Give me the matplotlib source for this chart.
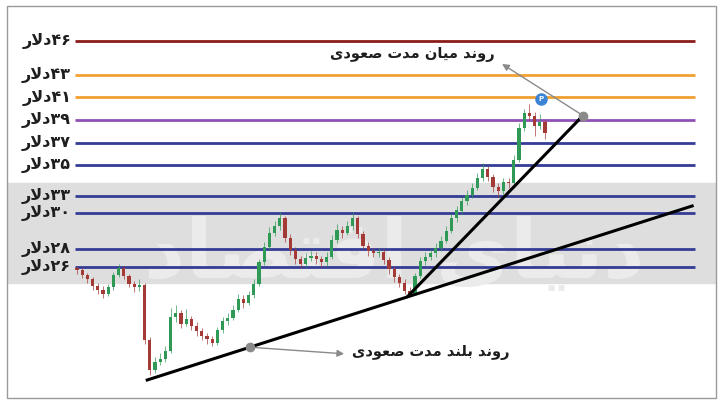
import re
import matplotlib.pyplot as plt
from matplotlib.patches import Rectangle

# price levels (as drawn) and their labels
levels = [46, 43, 41, 39, 37, 35, 32.3, 30.8, 27.6, 26.0]
level_labels = ['۴۶دلار', '۴۳دلار', '۴۱دلار', '۳۹دلار', '۳۷دلار',
                '۳۵دلار', '۳۳دلار', '۳۰دلار', '۲۸دلار', '۲۶دلار']
level_colors = ['#8b1c1c', '#f0a030', '#f0a030', '#9150b4', '#353c96',
                '#353c96', '#353c96', '#353c96', '#353c96', '#353c96']

# candles
closes = [25.7, 25.3, 24.9, 24.3, 24.0, 23.6, 24.2, 25.3, 25.9, 25.2,
          24.5, 24.2, 24.4, 19.5, 16.9, 17.6, 17.9, 18.6, 21.6, 21.9,
          21.0, 21.4, 20.8, 20.3, 19.9, 19.6, 19.3, 20.4, 21.2, 21.5,
          22.2, 23.2, 22.8, 23.5, 24.5, 26.4, 27.8, 29.0, 29.6, 30.3,
          28.6, 27.5, 26.7, 26.3, 26.8, 27.0, 26.7, 26.4, 26.9, 28.4,
          29.3, 29.0, 29.6, 30.3, 28.9, 27.9, 27.4, 27.2, 27.3, 26.6,
          25.8, 25.1, 24.6, 23.9, 23.6, 25.2, 26.5, 26.9, 27.2, 27.7,
          28.3, 29.2, 30.3, 31.0, 31.8, 32.4, 33.0, 33.9, 34.7, 34.0,
          33.1, 32.7, 33.5, 33.4, 35.5, 38.3, 39.6, 39.4, 38.5, 38.8, 37.9]
highs = [26.1, 25.9, 25.5, 25.1, 24.6, 24.3, 24.5, 25.6, 26.3, 26.1,
         25.4, 24.8, 24.9, 24.6, 19.8, 18.0, 18.4, 19.0, 22.4, 22.6,
         22.2, 22.3, 21.7, 21.1, 20.6, 20.2, 19.9, 20.7, 21.6, 21.9,
         22.6, 23.6, 23.5, 23.9, 24.9, 26.7, 28.2, 29.5, 30.1, 30.9,
         30.5, 28.9, 27.8, 27.0, 27.2, 27.4, 27.3, 27.0, 27.3, 28.8,
         29.8, 29.6, 30.1, 30.9, 30.5, 29.2, 28.2, 27.7, 27.7, 27.6,
         26.9, 26.1, 25.4, 24.9, 24.2, 25.5, 26.9, 27.3, 27.6, 28.1,
         28.7, 29.6, 30.7, 31.4, 32.2, 32.8, 33.4, 34.3, 35.2, 34.9,
         34.2, 33.4, 33.9, 33.9, 35.9, 38.7, 40.0, 40.4, 39.7, 39.5, 39.1]
lows = [25.4, 25.0, 24.6, 24.0, 23.6, 23.3, 23.4, 24.0, 25.1, 24.9,
        24.2, 23.8, 23.9, 19.2, 16.4, 16.6, 17.3, 17.6, 18.4, 21.1,
        20.6, 20.8, 20.4, 19.9, 19.5, 19.2, 19.0, 19.1, 20.2, 20.9,
        21.3, 22.0, 22.4, 22.6, 23.3, 24.3, 26.2, 27.6, 28.7, 29.3,
        28.2, 27.1, 26.3, 25.9, 26.0, 26.5, 26.3, 26.0, 26.1, 26.7,
        28.1, 28.6, 28.8, 29.3, 28.6, 27.6, 27.0, 26.9, 26.9, 26.3,
        25.4, 24.7, 24.2, 23.6, 23.4, 23.5, 25.0, 26.2, 26.6, 26.9,
        27.4, 28.1, 29.0, 30.0, 30.7, 31.5, 32.1, 32.8, 33.6, 33.6,
        32.6, 32.2, 32.5, 33.0, 33.2, 35.3, 38.0, 39.0, 37.6, 38.2, 37.3]
opens = [25.9] + closes[:-1]

# trend lines: (candle index, price)
long_trend = [(13.5, 16.0), (118.3, 31.4)]
mid_trend = [(63.6, 23.4), (97.3, 39.4)]
mid_text = 'روند میان مدت صعودی'
long_text = 'روند بلند مدت صعودی'
watermark = 'دنیای اقتصاد'

# presentation forms: isolated, final, initial, medial
FORMS = {
    'ا': ('\uFE8D', '\uFE8E', None, None),
    'ب': ('\uFE8F', '\uFE90', '\uFE91', '\uFE92'),
    'ت': ('\uFE95', '\uFE96', '\uFE97', '\uFE98'),
    'د': ('\uFEA9', '\uFEAA', None, None),
    'ر': ('\uFEAD', '\uFEAE', None, None),
    'ص': ('\uFEB9', '\uFEBA', '\uFEBB', '\uFEBC'),
    'ع': ('\uFEC9', '\uFECA', '\uFECB', '\uFECC'),
    'ق': ('\uFED5', '\uFED6', '\uFED7', '\uFED8'),
    'ل': ('\uFEDD', '\uFEDE', '\uFEDF', '\uFEE0'),
    'م': ('\uFEE1', '\uFEE2', '\uFEE3', '\uFEE4'),
    'ن': ('\uFEE5', '\uFEE6', '\uFEE7', '\uFEE8'),
    'و': ('\uFEED', '\uFEEE', None, None),
    'ی': ('\uFBFC', '\uFBFD', '\uFBFE', '\uFBFF'),
    'لا': ('\uFEFB', '\uFEFC', None, None),
}
DIGITS = '۰۱۲۳۴۵۶۷۸۹0123456789'


def rtl(s):
    units = []
    i = 0
    while i < len(s):
        if s[i:i + 2] == 'لا':
            units.append('لا')
            i += 2
        else:
            units.append(s[i])
            i += 1
    out = []
    for k, u in enumerate(units):
        if u not in FORMS:
            out.append(u)
            continue
        prev = units[k - 1] if k > 0 else None
        nxt = units[k + 1] if k + 1 < len(units) else None
        jp = prev in FORMS and FORMS[prev][2] is not None
        jn = nxt in FORMS and FORMS[u][2] is not None
        f = FORMS[u]
        out.append(f[3] if jp and jn else f[1] if jp else f[2] if jn else f[0])
    runs = re.findall('[' + DIGITS + ']+|[^' + DIGITS + ']+', ''.join(out))
    return ''.join(r if r[0] in DIGITS else r[::-1] for r in reversed(runs))


plt.rcParams['font.family'] = ['DejaVu Sans']

# pixel layout of the original: candle i sits at 77 + 5.2*i px,
# price p sits at 41 + 11.3*(46 - p) px from the top
X0, DX, PY = 77, 5.2, 11.3
fig = plt.figure(figsize=(7.24, 4.04), dpi=100)
ax = fig.add_axes([0, 0, 1, 1])
ax.set_xlim(-X0 / DX, (724 - X0) / DX)
ax.set_ylim(46 - (404 - 41) / PY, 46 + 41 / PY)
ax.axis('off')

# frame and grey band
ax.add_patch(Rectangle((7 / 724, 6 / 404), 709 / 724, 392 / 404,
                       transform=fig.transFigure, fill=False,
                       edgecolor='#9a9a9a', lw=1, clip_on=False))
ax.add_patch(Rectangle((8 / 724, 121 / 404), 707 / 724, 100 / 404,
                       transform=fig.transFigure, color='#dedede',
                       zorder=0, clip_on=False))
ax.text(61, 27.0, rtl(watermark), fontsize=58, color='#ebebeb',
        ha='center', va='center', fontweight='bold', zorder=0.5)

# horizontal levels
x_start, x_end = (75 - X0) / DX, (695 - X0) / DX
for lv, lab, col in zip(levels, level_labels, level_colors):
    ax.hlines(lv, x_start, x_end, color=col, lw=2, zorder=2)
    ax.text((71 - X0) / DX, lv, rtl(lab), ha='right', va='center',
            fontsize=11.5, color='#1e1e1e', fontweight='bold')

# candles
for i, (o, h, l, c) in enumerate(zip(opens, highs, lows, closes)):
    col = '#2f9a55' if c >= o else '#a33a36'
    ax.vlines(i, l, h, color=col, lw=0.7, alpha=0.7, zorder=3)
    ax.bar(i, max(abs(c - o), 0.15), bottom=min(o, c), width=0.6,
           color=col, zorder=3)

# trend lines
for pts in (long_trend, mid_trend):
    ax.plot([p[0] for p in pts], [p[1] for p in pts], color='black',
            lw=2.2, zorder=4)

# annotations
ax.plot(*mid_trend[1], 'o', color='#8a8a8a', ms=6, zorder=5)
ax.annotate('', xy=(81.3, 44.1), xytext=mid_trend[1],
            arrowprops=dict(arrowstyle='-|>', color='#8a8a8a', lw=1))
ax.text(80.3, 44.8, rtl(mid_text), ha='right', va='center', fontsize=10.5,
        color='#1e1e1e', fontweight='bold')

ax.plot(33.3, 18.9, 'o', color='#8a8a8a', ms=6, zorder=5)
ax.annotate('', xy=(51.9, 18.3), xytext=(33.3, 18.9),
            arrowprops=dict(arrowstyle='-|>', color='#8a8a8a', lw=1))
ax.text(52.8, 18.4, rtl(long_text), ha='left', va='center', fontsize=10.5,
        color='#1e1e1e', fontweight='bold')

# small marker above the last candles
ax.plot(89.2, 40.9, 'o', color='#3b84d6', ms=8, zorder=5)
ax.text(89.2, 40.9, 'P', color='white', fontsize=5, ha='center',
        va='center', fontweight='bold', zorder=6)

fig.savefig('out.png', dpi=100)
